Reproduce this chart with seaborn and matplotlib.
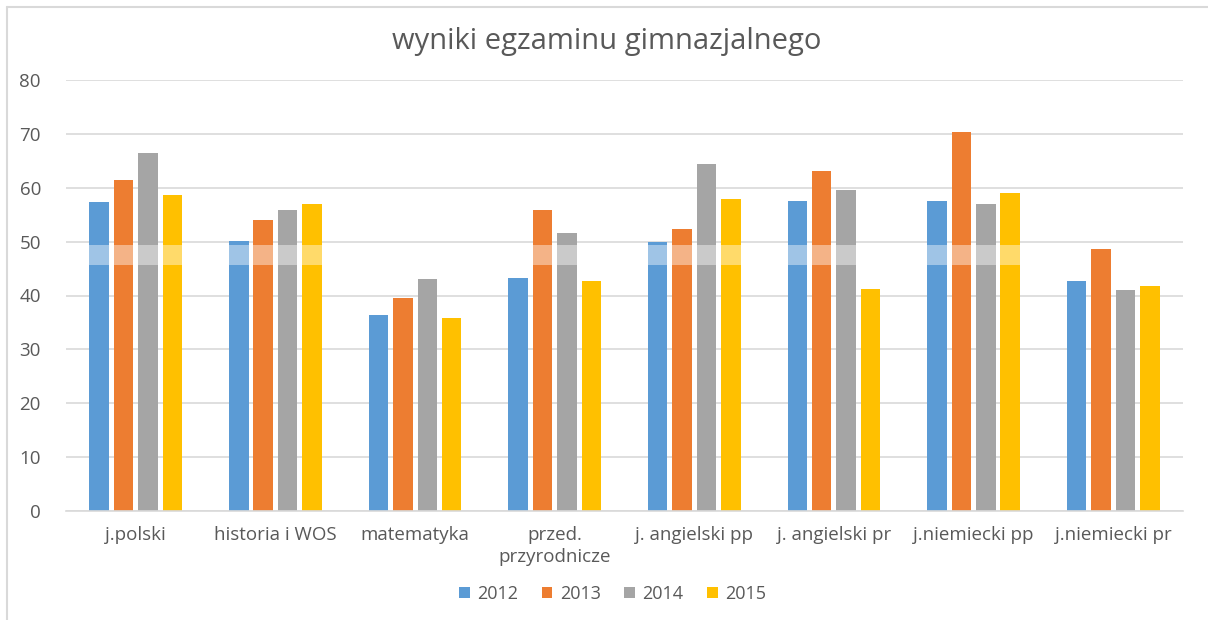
import matplotlib
matplotlib.use("Agg")
import matplotlib.pyplot as plt
import seaborn as sns
import pandas as pd
from matplotlib.lines import Line2D

categories = ["j.polski", "historia i WOS", "matematyka", "przed.\nprzyrodnicze",
              "j. angielski pp", "j. angielski pr", "j.niemiecki pp", "j.niemiecki pr"]
years = ["2012", "2013", "2014", "2015"]
v2012 = [57.4, 50.2, 36.4, 43.2, 50.0, 57.5, 57.6, 42.7]
v2013 = [61.4, 54.1, 39.6, 55.8, 52.3, 63.1, 70.4, 48.7]
v2014 = [66.5, 55.8, 43.0, 51.6, 64.4, 59.5, 57.0, 41.0]
v2015 = [58.6, 57.0, 35.9, 42.6, 57.9, 41.2, 59.1, 41.7]
colors = ["#5B9BD5", "#ED7D31", "#A5A5A5", "#FFC000"]

rows = []
for y, vals in zip(years, [v2012, v2013, v2014, v2015]):
    for c, v in zip(categories, vals):
        rows.append({"cat": c, "year": y, "val": v})
df = pd.DataFrame(rows)

sns.set_theme(style="white")
plt.rcParams['font.family'] = ['Open Sans', 'DejaVu Sans']

fig = plt.figure(figsize=(12.08, 6.2), dpi=100)
ax = fig.add_axes([66/1208, 1 - 511/620, (1183 - 66)/1208, (511 - 80)/620])

sns.barplot(data=df, x="cat", y="val", hue="year", order=categories, hue_order=years,
            palette=colors, width=0.7, gap=0.2, ax=ax, legend=True, saturation=1,
            edgecolor="none", zorder=2)

# faint white band artefact seen in the reference
ax.axhspan(45.6, 49.4, xmin=0, xmax=7/8, color="white", alpha=0.42, zorder=3, lw=0)

ax.set_ylim(0, 80)
ax.set_xlim(-0.5, len(categories) - 0.5)
ax.set_yticks(range(0, 81, 10))
ax.yaxis.grid(True, color="#D9D9D9", lw=1.2, zorder=0)
ax.set_axisbelow(True)
for s in ["top", "right", "left"]:
    ax.spines[s].set_visible(False)
ax.spines["bottom"].set_color("#D9D9D9")
ax.spines["bottom"].set_linewidth(1.2)
ax.set_xlabel("")
ax.set_ylabel("")
ax.tick_params(axis="both", length=0, colors="#595959")
ax.tick_params(axis="y", pad=18, labelsize=13.5)
ax.tick_params(axis="x", pad=11, labelsize=13.5)
for lbl in ax.get_xticklabels():
    lbl.set_linespacing(1.25)

fig.text(0.502, 1 - 42/620, "wyniki egzaminu gimnazjalnego", ha="center", va="center",
         fontsize=21, color="#595959")

handles, labels = ax.get_legend_handles_labels()
ax.get_legend().remove()
fig.legend(handles, labels, loc="center", bbox_to_anchor=(0.507, 1 - 594/620), ncol=4,
           frameon=False, fontsize=13, labelcolor="#595959", handlelength=0.6,
           handleheight=0.6, handletextpad=0.4, columnspacing=1.3)

fig.add_artist(Line2D([7/1208, 1], [1 - 7/620, 1 - 7/620], transform=fig.transFigure,
                      color="#D9D9D9", lw=1.5))
fig.add_artist(Line2D([7/1208, 7/1208], [0, 1 - 7/620], transform=fig.transFigure,
                      color="#D9D9D9", lw=1.5))

fig.savefig("out.png", dpi=100, facecolor="white")
